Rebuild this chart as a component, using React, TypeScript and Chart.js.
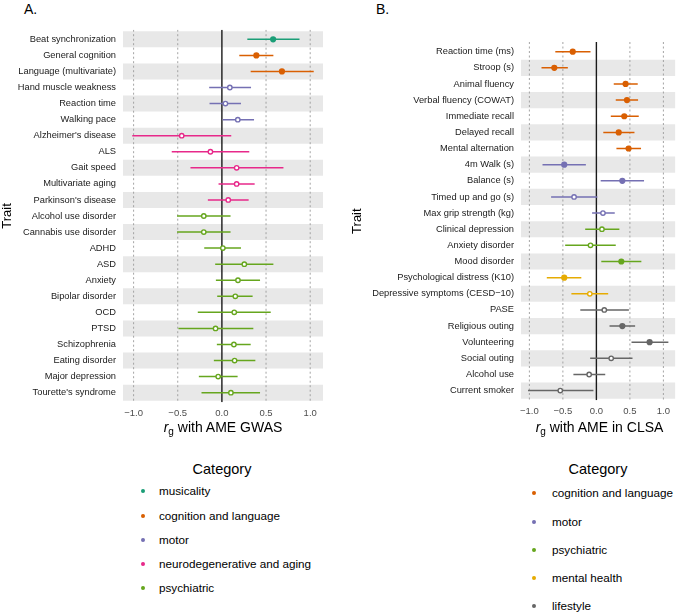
import React, { useEffect, useRef } from 'react';
import { Chart, registerables } from 'chart.js';

Chart.register(...registerables);

const FONT = '"Liberation Sans", Arial, Helvetica, sans-serif';

// ---------------- Panel A data ----------------
const traitsA = [
  'Beat synchronization', 'General cognition', 'Language (multivariate)', 'Hand muscle weakness',
  'Reaction time', 'Walking pace', "Alzheimer's disease", 'ALS', 'Gait speed', 'Multivariate aging',
  "Parkinson's disease", 'Alcohol use disorder', 'Cannabis use disorder', 'ADHD', 'ASD', 'Anxiety',
  'Bipolar disorder', 'OCD', 'PTSD', 'Schizophrenia', 'Eating disorder', 'Major depression',
  "Tourette's syndrome",
];
const estA = [0.58, 0.39, 0.68, 0.09, 0.04, 0.18, -0.455, -0.13, 0.167, 0.167, 0.072, -0.205, -0.205,
  0.011, 0.254, 0.182, 0.152, 0.14, -0.072, 0.136, 0.144, -0.042, 0.102];
const loA = [0.288, 0.197, 0.326, -0.144, -0.14, 0.008, -1.015, -0.568, -0.356, -0.038, -0.159, -0.508,
  -0.508, -0.2, -0.076, -0.068, -0.053, -0.273, -0.492, -0.057, -0.091, -0.261, -0.231];
const hiA = [0.879, 0.583, 1.04, 0.33, 0.216, 0.364, 0.106, 0.31, 0.697, 0.371, 0.303, 0.098, 0.098,
  0.216, 0.583, 0.432, 0.348, 0.553, 0.356, 0.326, 0.379, 0.178, 0.432];
const catA = [
  'musicality', 'cognition and language', 'cognition and language', 'motor', 'motor', 'motor',
  'neurodegenerative and aging', 'neurodegenerative and aging', 'neurodegenerative and aging',
  'neurodegenerative and aging', 'neurodegenerative and aging', 'psychiatric', 'psychiatric',
  'psychiatric', 'psychiatric', 'psychiatric', 'psychiatric', 'psychiatric', 'psychiatric',
  'psychiatric', 'psychiatric', 'psychiatric', 'psychiatric',
];
const filledA = [true, true, true, false, false, false, false, false, false, false, false, false, false,
  false, false, false, false, false, false, false, false, false, false];
const legendA = ['musicality', 'cognition and language', 'motor', 'neurodegenerative and aging', 'psychiatric'];

// ---------------- Panel B data ----------------
const traitsB = [
  'Reaction time (ms)', 'Stroop (s)', 'Animal fluency', 'Verbal fluency (COWAT)', 'Immediate recall',
  'Delayed recall', 'Mental alternation', '4m Walk (s)', 'Balance (s)', 'Timed up and go (s)',
  'Max grip strength (kg)', 'Clinical depression', 'Anxiety disorder', 'Mood disorder',
  'Psychological distress (K10)', 'Depressive symptoms (CESD\u221210)', 'PASE', 'Religious outing',
  'Volunteering', 'Social outing', 'Alcohol use', 'Current smoker',
];
const estB = [-0.353, -0.628, 0.436, 0.456, 0.416, 0.333, 0.48, -0.48, 0.387, -0.333, 0.098, 0.083,
  -0.088, 0.372, -0.48, -0.098, 0.118, 0.387, 0.794, 0.221, -0.108, -0.539];
const loB = [-0.613, -0.819, 0.259, 0.289, 0.215, 0.103, 0.299, -0.804, 0.064, -0.676, -0.064, -0.167,
  -0.466, 0.073, -0.74, -0.373, -0.24, 0.196, 0.524, -0.093, -0.343, -1.02];
const hiB = [-0.088, -0.426, 0.617, 0.622, 0.632, 0.568, 0.666, -0.157, 0.711, 0.014, 0.274, 0.343,
  0.289, 0.671, -0.225, 0.176, 0.485, 0.578, 1.074, 0.539, 0.132, -0.044];
const catB = [
  'cognition and language', 'cognition and language', 'cognition and language', 'cognition and language',
  'cognition and language', 'cognition and language', 'cognition and language', 'motor', 'motor', 'motor',
  'motor', 'psychiatric', 'psychiatric', 'psychiatric', 'mental health', 'mental health', 'lifestyle',
  'lifestyle', 'lifestyle', 'lifestyle', 'lifestyle', 'lifestyle',
];
const filledB = [true, true, true, true, true, true, true, true, true, false, false, false, false, true,
  true, false, false, true, true, false, false, false];
const legendB = ['cognition and language', 'motor', 'psychiatric', 'mental health', 'lifestyle'];

// ---------------- shared axis values ----------------
const xTickValues = [-1, -0.5, 0, 0.5, 1];
const dottedLines = [-1, -0.5, 0.5, 1];
const zeroLine = 0;

const categoryColors: Record<string, string> = {
  'musicality': '#1B9E77',
  'cognition and language': '#D95F02',
  'motor': '#7570B3',
  'neurodegenerative and aging': '#E7298A',
  'psychiatric': '#66A61E',
  'mental health': '#E6AB02',
  'lifestyle': '#666666',
};

const fmtTick = (v: number) => (v < 0 ? '\u2212' : '') + Math.abs(v).toFixed(1);

interface PanelSpec {
  traits: string[]; est: number[]; lo: number[]; hi: number[]; cat: string[]; filled: boolean[];
  xMin: number; xMax: number; yAxisWidth: number; padTop: number; padRight: number; xAxisHeight: number;
}

function buildConfig(p: PanelSpec): any {
  const n = p.traits.length;
  const yMin = -0.6;
  const yMax = n - 1 + 0.6;
  const rows = p.traits.map((_, i) => i);
  const bandRows = rows.filter((i) => (n - 1 - i) % 2 === 0);
  const colors = p.cat.map((c) => categoryColors[c]);
  const datasets: any[] = [
    {
      type: 'bar', indexAxis: 'y', order: 5,
      data: bandRows.map((i) => ({ y: i, x: [p.xMin, p.xMax] })),
      backgroundColor: '#E8E8E8', borderWidth: 0, grouped: false,
      categoryPercentage: 1, barPercentage: 1, inflateAmount: 0,
    },
    ...dottedLines.map((v) => ({
      type: 'line', order: 4,
      data: [{ x: v, y: yMin }, { x: v, y: yMax }],
      borderColor: '#9A9A9A', borderWidth: 0.9, borderDash: [2, 2.5], pointRadius: 0, fill: false,
    })),
    {
      type: 'line', order: 3,
      data: [{ x: zeroLine, y: yMin }, { x: zeroLine, y: yMax }],
      borderColor: '#1A1A1A', borderWidth: 1.4, pointRadius: 0, fill: false,
    },
    {
      type: 'bar', indexAxis: 'y', order: 2,
      data: rows.map((i) => ({ y: i, x: [p.lo[i], p.hi[i]] })),
      backgroundColor: colors, borderWidth: 0, grouped: false,
      barThickness: 1.5, maxBarThickness: 1.5, inflateAmount: 0,
    },
    {
      type: 'scatter', order: 1,
      data: rows.map((i) => ({ x: p.est[i], y: i })),
      pointBackgroundColor: rows.map((i) => (p.filled[i] ? colors[i] : '#FFFFFF')),
      pointBorderColor: colors,
      pointBorderWidth: rows.map((i) => (p.filled[i] ? 0 : 1.4)),
      pointRadius: rows.map((i) => (p.filled[i] ? 3.1 : 2.2)),
      pointHoverRadius: rows.map((i) => (p.filled[i] ? 3.1 : 2.2)),
    },
  ];
  return {
    type: 'bar',
    data: { datasets },
    options: {
      animation: false,
      responsive: false,
      devicePixelRatio: 1,
      layout: { padding: { top: p.padTop, right: p.padRight, left: 0, bottom: 0 } },
      plugins: { legend: { display: false }, tooltip: { enabled: false }, title: { display: false } },
      events: [],
      scales: {
        x: {
          type: 'linear', min: p.xMin, max: p.xMax, offset: false, beginAtZero: false,
          afterBuildTicks: (s: any) => { s.ticks = xTickValues.map((v) => ({ value: v })); },
          afterFit: (s: any) => { s.height = p.xAxisHeight; },
          grid: { display: false, drawTicks: false, offset: false },
          border: { display: false },
          ticks: {
            callback: (v: any) => fmtTick(Number(v)),
            font: { family: FONT, size: 9.5 }, color: '#4D4D4D', padding: 5,
            maxRotation: 0, autoSkip: false,
          },
        },
        y: {
          type: 'linear', reverse: true, min: yMin, max: yMax, offset: false, beginAtZero: false,
          afterBuildTicks: (s: any) => { s.ticks = rows.map((i) => ({ value: i })); },
          afterFit: (s: any) => { s.width = p.yAxisWidth; },
          grid: { display: false, drawTicks: false, offset: false },
          border: { display: false },
          ticks: {
            callback: (v: any) => p.traits[Math.round(Number(v))],
            font: { family: FONT, size: 9.3 }, color: '#1A1A1A', padding: 7, autoSkip: false,
          },
          title: {
            display: true, text: 'Trait', color: '#000000',
            font: { family: FONT, size: 13, lineHeight: 1.1 }, padding: { top: 0, bottom: 0 },
          },
        },
      },
    },
  };
}

const specA: PanelSpec = {
  traits: traitsA, est: estA, lo: loA, hi: hiA, cat: catA, filled: filledA,
  xMin: -1.12, xMax: 1.145, yAxisWidth: 123, padTop: 29.7, padRight: 17, xAxisHeight: 29.7,
};
const specB: PanelSpec = {
  traits: traitsB, est: estB, lo: loB, hi: hiB, cat: catB, filled: filledB,
  xMin: -1.125, xMax: 1.179, yAxisWidth: 171, padTop: 42, padRight: 1, xAxisHeight: 31.7,
};

function Panel({ spec, left, width }: { spec: PanelSpec; left: number; width: number }) {
  const ref = useRef<HTMLCanvasElement | null>(null);
  useEffect(() => {
    if (!ref.current) return;
    const chart = new Chart(ref.current, buildConfig(spec));
    return () => chart.destroy();
  }, [spec]);
  return (
    <canvas ref={ref} width={width} height={432}
      style={{ position: 'absolute', left, top: 0, width, height: 432 }} />
  );
}

function XTitle({ left, width, rest }: { left: number; width: number; rest: string }) {
  return (
    <div style={{ position: 'absolute', left, width, top: 418, textAlign: 'center', fontSize: 14, lineHeight: '18px', color: '#000' }}>
      <i>r</i>
      <span style={{ fontSize: 10, position: 'relative', top: 3 }}>g</span>
      {' ' + rest}
    </div>
  );
}

function Legend({ items, centerX, dotX, textX, ys }: { items: string[]; centerX: number; dotX: number; textX: number; ys: number[] }) {
  return (
    <>
      <div style={{ position: 'absolute', left: centerX - 100, width: 200, top: 460, textAlign: 'center', fontSize: 14.5, lineHeight: '18px', color: '#000' }}>
        Category
      </div>
      {items.map((it, i) => (
        <React.Fragment key={it}>
          <div style={{ position: 'absolute', left: dotX - 1.9, top: ys[i] - 1.9, width: 3.8, height: 3.8, borderRadius: '50%', background: categoryColors[it] }} />
          <div style={{ position: 'absolute', left: textX, top: ys[i] - 7, fontSize: 11.7, lineHeight: '14px', whiteSpace: 'nowrap', color: '#000' }}>
            {it}
          </div>
        </React.Fragment>
      ))}
    </>
  );
}

export default function App() {
  return (
    <div style={{ position: 'absolute', left: 0, top: 0, width: 679, height: 613, overflow: 'hidden', background: '#FFFFFF', fontFamily: FONT }}>
      <div style={{ position: 'absolute', left: 24, top: 1, fontSize: 14, lineHeight: '16px' }}>A.</div>
      <div style={{ position: 'absolute', left: 376, top: 1, fontSize: 14, lineHeight: '16px' }}>B.</div>
      <Panel spec={specA} left={0} width={340} />
      <Panel spec={specB} left={350} width={329} />
      <XTitle left={123} width={200} rest="with AME GWAS" />
      <XTitle left={521} width={157} rest="with AME in CLSA" />
      <Legend items={legendA} centerX={222} dotX={143} textX={159} ys={[491, 515.7, 539.7, 563.7, 587.7]} />
      <Legend items={legendB} centerX={598} dotX={534} textX={552} ys={[493.3, 521.7, 550, 577.7, 606]} />
    </div>
  );
}
